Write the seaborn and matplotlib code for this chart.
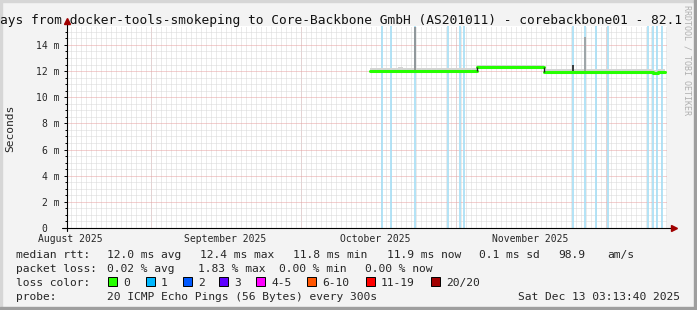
import matplotlib
matplotlib.use("Agg")
import matplotlib.pyplot as plt
import matplotlib.dates as mdates
from matplotlib.patches import Rectangle
import seaborn as sns
import pandas as pd

# ---------------- data ----------------
x_start = "2025-08-15 03:13:40"
x_end = "2025-12-13 03:13:40"

median_seg = [0, 0, 0, 0, 1, 1, 2, 2, 2, 2]
median_time = ["2025-10-14 17:00", "2025-10-20 06:00", "2025-10-21 06:00", "2025-11-05 03:00",
               "2025-11-05 03:00", "2025-11-18 13:00",
               "2025-11-18 13:00", "2025-12-10 06:00", "2025-12-11 06:00", "2025-12-12 18:00"]
median_ms = [12.0, 12.04, 12.0, 12.0,
             12.29, 12.29,
             11.95, 11.82, 11.95, 11.95]
smoke_top_ms = [12.26, 12.29, 12.24, 12.24,
                12.47, 12.47,
                12.18, 12.05, 12.18, 12.18]

step_time = ["2025-11-05 03:00", "2025-11-18 13:00"]
step_low = [12.0, 11.95]
step_high = [12.29, 12.29]

spike_time = ["2025-10-23 17:30", "2025-11-24 08:00", "2025-11-26 17:30"]
spike_low = [12.0, 11.95, 11.95]
spike_high = [15.4, 12.5, 14.6]
spike_color = ["#8a8a8a", "#202020", "#9a9a9a"]

loss_time = ["2025-10-17 03:00", "2025-10-18 22:00", "2025-10-23 16:00", "2025-10-30 08:00",
             "2025-11-01 17:30", "2025-11-02 12:50", "2025-11-24 08:00", "2025-11-26 16:00",
             "2025-11-28 22:30", "2025-12-01 08:00", "2025-12-09 08:00", "2025-12-10 08:00",
             "2025-12-11 03:00", "2025-12-12 03:00"]

month_starts = ["2025-09-01", "2025-10-01", "2025-11-01", "2025-12-01"]
month_label_pos = ["2025-08-15 18:00", "2025-09-15 18:00", "2025-10-15 18:00", "2025-11-15 18:00"]
month_labels = ["August 2025", "September 2025", "October 2025", "November 2025"]

y_ticks = [0, 2, 4, 6, 8, 10, 12, 14]
y_tick_labels = ["0  ", "2 m", "4 m", "6 m", "8 m", "10 m", "12 m", "14 m"]

title = "ays from docker-tools-smokeping to Core-Backbone GmbH (AS201011) - corebackbone01 - 82.1"
rtt_items = ["median rtt:", "12.0 ms avg", "12.4 ms max", "11.8 ms min", "11.9 ms now",
             "0.1 ms sd", "98.9", "am/s"]
loss_items = ["packet loss:", "0.02 % avg", "1.83 % max", "0.00 % min", "0.00 % now"]
loss_color_labels = ["0", "1", "2", "3", "4-5", "6-10", "11-19", "20/20"]
loss_colors = ["#26ff00", "#00b8ff", "#0059ff", "#5e00ff", "#ff00ff", "#ff5500", "#ff0000", "#a10000"]
probe_text = "20 ICMP Echo Pings (56 Bytes) every 300s"
stamp_text = "Sat Dec 13 03:13:40 2025"

# ---------------- figure ----------------
sns.set_theme(style="white")
plt.rcParams['font.family'] = ['DejaVu Sans Mono', 'DejaVu Sans']

W, H, DPI = 697, 310, 100
fig = plt.figure(figsize=(W / DPI, H / DPI), dpi=DPI, facecolor="#f3f3f3")
L, R, B, T = 67, 667, 228, 26
ax = fig.add_axes([L / W, 1 - B / H, (R - L) / W, (B - T) / H])
ax.set_facecolor("white")

def fx(px):
    return px / W

def fy(py):
    return 1 - py / H

# frame
fig.patches.append(Rectangle((0, 0), fx(2), 1, transform=fig.transFigure, color="#d6d6d6", zorder=0))
fig.patches.append(Rectangle((0, fy(2)), 1, 2 / H, transform=fig.transFigure, color="#d6d6d6", zorder=0))
fig.patches.append(Rectangle((fx(W - 3), 0), 3 / W, 1, transform=fig.transFigure, color="#9e9e9e", zorder=0))
fig.patches.append(Rectangle((0, 0), 1, 3 / H, transform=fig.transFigure, color="#9e9e9e", zorder=0))

df = pd.DataFrame({"time": pd.to_datetime(median_time), "ms": median_ms,
                   "top": smoke_top_ms, "seg": median_seg})

t0, t1 = pd.Timestamp(x_start), pd.Timestamp(x_end)
ax.set_xlim(t0, t1)
ax.set_ylim(0, 15.45)

# grid
dot = (0, (1, 1))
ax.xaxis.set_minor_locator(mdates.DayLocator())
ax.set_yticks([v * 0.5 for v in range(31)], minor=True)
ax.set_yticks(y_ticks, labels=y_tick_labels)
ax.set_xticks(pd.to_datetime(month_label_pos), labels=month_labels)
ax.grid(which="minor", axis="both", color="#d8d8d8", ls=dot, lw=0.72)
ax.grid(which="major", axis="y", color="#e8a0a0", ls=dot, lw=0.72)
ax.grid(which="major", axis="x", visible=False)
for m in pd.to_datetime(month_starts):
    ax.axvline(m, color="#e8a0a0", ls=dot, lw=0.72, zorder=0.5)
ax.set_axisbelow(True)

# loss lines
for lt in pd.to_datetime(loss_time):
    ax.axvline(lt, color="#a6def5", lw=1.2, zorder=1)

# smoke
for s, g in df.groupby("seg"):
    ax.fill_between(g["time"], g["ms"], g["top"], step="post", color="#d4d4d4", lw=0, zorder=2)

# spikes
ax.vlines(pd.to_datetime(spike_time), spike_low, spike_high, colors=spike_color, lw=1.2, zorder=2.5)

# median
sns.lineplot(data=df, x="time", y="ms", hue="seg", palette=[loss_colors[0]] * 3,
             drawstyle="steps-post", estimator=None, lw=2.2, legend=False, ax=ax, zorder=3)
ax.vlines(pd.to_datetime(step_time), step_low, step_high, colors="#202020", lw=1.0, zorder=3.5)

# axes styling
for sp in ax.spines.values():
    sp.set_visible(False)
ax.plot([-5 / 600, 1.008], [0, 0], transform=ax.transAxes, clip_on=False, color="black", lw=0.8, zorder=5)
ax.plot([0, 0], [-3 / 202, 1.02], transform=ax.transAxes, clip_on=False, color="black", lw=0.8, zorder=5)
ax.plot([1.012], [0], transform=ax.transAxes, clip_on=False, marker=">", ms=4.5, color="#a00000", zorder=6)
ax.plot([0], [1.025], transform=ax.transAxes, clip_on=False, marker="^", ms=4.5, color="#a00000", zorder=6)

ax.tick_params(axis="y", which="major", direction="out", length=2.5, width=0.7, color="black",
               pad=2.6, labelsize=7, left=True)
ax.tick_params(axis="y", which="minor", direction="out", length=1.5, width=0.7, color="black", left=True)
ax.tick_params(axis="x", which="both", length=0, pad=4.0, labelsize=7)
ax.set_xlabel("")
ax.set_ylabel("")
fig.text(fx(10.5), fy(128), "Seconds", fontsize=8.1, rotation=90, ha="center", va="center")

# title and side text
fig.text(fx(0), fy(24), title, fontsize=9.3, ha="left", va="baseline", color="#111111")
fig.text(fx(687), fy(5), "RRDTOOL / TOBI OETIKER", fontsize=6, rotation=270, ha="center", va="top",
         color="#b0b0b0")

# legend block
fs = 8.1
rtt_x = [16, 107, 200, 293, 387, 479, 558, 607]
for x, s in zip(rtt_x, rtt_items):
    fig.text(fx(x), fy(258), s, fontsize=fs, va="baseline")
loss_x = [16, 107, 198, 279, 365]
for x, s in zip(loss_x, loss_items):
    fig.text(fx(x), fy(272), s, fontsize=fs, va="baseline")
fig.text(fx(16), fy(286), "loss color:", fontsize=fs, va="baseline")
box_x = [108, 146, 183, 219, 256, 307, 366, 431]
for x, lab, c in zip(box_x, loss_color_labels, loss_colors):
    fig.patches.append(Rectangle((fx(x), fy(286)), 9 / W, 9 / H, transform=fig.transFigure,
                                 facecolor=c, edgecolor="black", lw=0.7))
    fig.text(fx(x + 15), fy(286), lab, fontsize=fs, va="baseline")
fig.text(fx(16), fy(300), "probe:", fontsize=fs, va="baseline")
fig.text(fx(107), fy(300), probe_text, fontsize=fs, va="baseline")
fig.text(fx(680), fy(300), stamp_text, fontsize=fs, va="baseline", ha="right")

fig.savefig("out.png", dpi=DPI, facecolor=fig.get_facecolor())
